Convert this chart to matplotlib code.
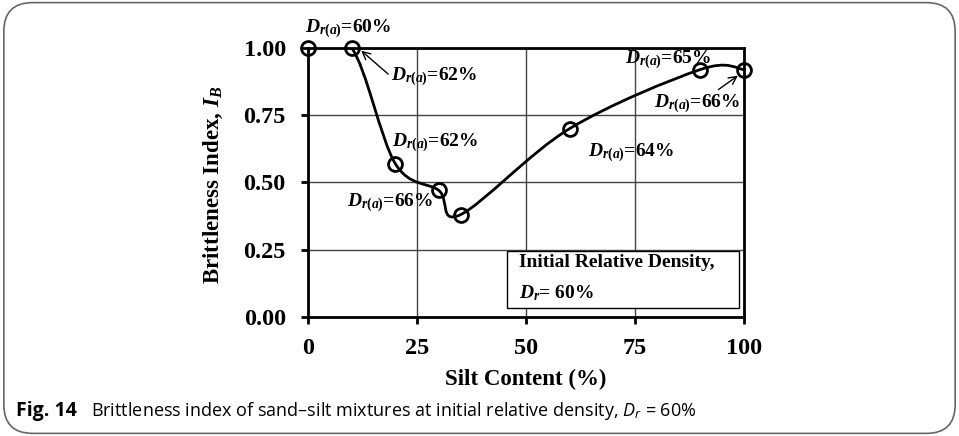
import matplotlib
matplotlib.use("Agg")
import matplotlib.pyplot as plt
from matplotlib.path import Path
from matplotlib.patches import PathPatch, Rectangle, FancyBboxPatch

# Brittleness index vs silt content
silt = [0, 10, 20, 30, 35, 60, 90, 100]
ib = [1.00, 1.00, 0.57, 0.47, 0.38, 0.70, 0.92, 0.92]

# (label, text x, text y, arrow target x, arrow target y or None)
notes = [
    ("60%", 9.2, 1.073, None, None),
    ("62%", 28.9, 0.894, 12.2, 0.99),
    ("62%", 29.1, 0.647, None, None),
    ("66%", 18.8, 0.424, None, None),
    ("64%", 74.2, 0.611, None, None),
    ("65%", 82.5, 0.958, None, None),
    ("66%", 89.3, 0.793, 98.6, 0.897),
]

plt.rcParams["font.family"] = "Liberation Serif"
plt.rcParams["font.weight"] = "bold"
plt.rcParams["mathtext.fontset"] = "custom"
plt.rcParams["mathtext.rm"] = "Liberation Serif:bold"
plt.rcParams["mathtext.it"] = "Liberation Serif:italic:bold"
plt.rcParams["mathtext.bf"] = "Liberation Serif:bold"
plt.rcParams["mathtext.sf"] = "Open Sans:italic:normal"


def smooth_path(xs, ys):
    # Bezier smoothing through every point (spreadsheet-style smoothed line)
    pts = list(zip(xs, ys))
    n = len(pts)
    verts = [pts[0]]
    codes = [Path.MOVETO]
    for i in range(n - 1):
        p0 = pts[max(i - 1, 0)]
        p1 = pts[i]
        p2 = pts[i + 1]
        p3 = pts[min(i + 2, n - 1)]
        c1 = (p1[0] + (p2[0] - p0[0]) / 6, p1[1] + (p2[1] - p0[1]) / 6)
        c2 = (p2[0] - (p3[0] - p1[0]) / 6, p2[1] - (p3[1] - p1[1]) / 6)
        verts += [c1, c2, p2]
        codes += [Path.CURVE4] * 3
    return Path(verts, codes)


fig = plt.figure(figsize=(9.59, 4.36), dpi=100)

# rounded frame around the whole figure
frame = FancyBboxPatch((0.004, 0.006), 0.992, 0.988,
                       boxstyle="round,pad=0,rounding_size=0.03",
                       transform=fig.transFigure, fill=False,
                       edgecolor="#666666", linewidth=1.2,
                       mutation_aspect=959 / 436)
fig.patches.append(frame)

ax = fig.add_axes([0.3212, 0.2736, 0.4546, 0.6163])

ax.add_patch(PathPatch(smooth_path(silt, ib), facecolor="none",
                       edgecolor="black", linewidth=2, zorder=3))
ax.plot(silt, ib, linestyle="none", marker="o", markersize=10,
        markerfacecolor="none", markeredgecolor="black",
        markeredgewidth=2, clip_on=False, zorder=4)

ax.set_xlim(0, 100)
ax.set_ylim(0, 1)
ax.set_xticks([0, 25, 50, 75, 100])
ax.set_yticks([0, 0.25, 0.5, 0.75, 1.0])
ax.set_yticklabels(["0.00", "0.25", "0.50", "0.75", "1.00"])
ax.grid(True, color="#444444", linewidth=1)
ax.set_axisbelow(True)
for s in ax.spines.values():
    s.set_linewidth(2)
ax.tick_params(axis="both", direction="out", length=5, width=2,
               labelsize=17.5)
ax.tick_params(axis="y", pad=11)
ax.tick_params(axis="x", pad=10)

ax.set_xlabel("Silt Content (%)", fontsize=16.5, fontweight="bold")
ax.xaxis.set_label_coords(0.5, -0.195)
ax.set_ylabel(r"Brittleness Index, $\mathit{I}_{\mathit{B}}$",
              fontsize=16.5, fontweight="bold")
ax.yaxis.set_label_coords(-0.19, 0.49)

for val, tx, ty, axx, axy in notes:
    label = r"$\mathit{D}_{\mathit{r(a)}}$=" + val
    if axx is None:
        ax.text(tx, ty, label, fontsize=14, ha="center", va="center",
                clip_on=False, zorder=5)
    else:
        ax.annotate(label, xy=(axx, axy), xytext=(tx, ty), fontsize=14,
                    ha="center", va="center", zorder=5,
                    arrowprops=dict(arrowstyle="->", color="black",
                                    linewidth=1, shrinkA=0, shrinkB=0,
                                    relpos=(0.0, 0.5) if axx < tx else (0.7, 1.0)))

# boxed note on initial relative density
ax.add_patch(Rectangle((45.6, 0.032), 53.3, 0.213, facecolor="white",
                       edgecolor="black", linewidth=1, zorder=5))
ax.text(48.4, 0.20, "Initial Relative Density,", fontsize=14,
        ha="left", va="center", zorder=6)
ax.text(48.4, 0.088, r"$\mathit{D}_{\mathit{r}}$= 60%", fontsize=14,
        ha="left", va="center", zorder=6)

# caption
fig.text(16 / 959, 1 - 411 / 436, "Fig. 14", fontsize=14,
         family="Open Sans", fontweight="bold", va="center")
fig.text(91 / 959, 1 - 411 / 436,
         r"Brittleness index of sand–silt mixtures at initial relative density, "
         r"$\mathsf{D}_{\mathsf{r}}$ = 60%",
         fontsize=13, family="Open Sans", fontweight="normal", va="center")

fig.savefig("out.png", dpi=100)
